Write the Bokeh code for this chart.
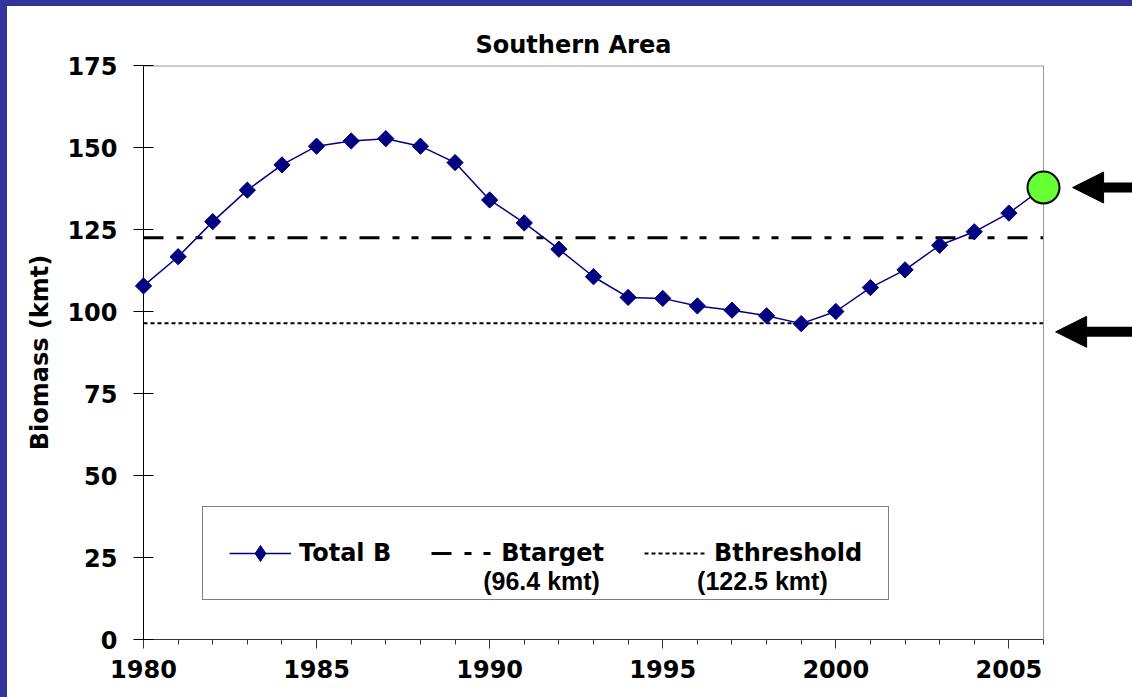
import math
from bokeh.plotting import figure
from bokeh.layouts import row, column
from bokeh.models import (Range1d, SingleIntervalTicker, Legend, LegendItem, Label,
                          Arrow, NormalHead, Span, Div)
from bokeh.embed import file_html
from bokeh.resources import INLINE

# ---- data ----
years = [1980, 1981, 1982, 1983, 1984, 1985, 1986, 1987, 1988, 1989,
         1990, 1991, 1992, 1993, 1994, 1995, 1996, 1997, 1998, 1999,
         2000, 2001, 2002, 2003, 2004, 2005, 2006]
total_b = [107.8, 116.7, 127.4, 137.0, 144.7, 150.4, 152.0, 152.7, 150.4, 145.4,
           134.0, 127.0, 119.0, 110.6, 104.3, 104.0, 101.7, 100.4, 98.7, 96.3,
           100.0, 107.3, 112.7, 120.2, 124.3, 130.0, 137.8]
dashdot_level = 122.5   # drawn dash-dot line
dotted_level = 96.4     # drawn dotted line
y_max = 175
legend_labels = ["Total B", "Btarget", "Bthreshold"]
legend_sublabels = ["(96.4 kmt)", "(122.5 kmt)"]
title_text = "Southern Area"
y_title = "Biomass (kmt)"
arrow_levels = [137.8, 93.8]
arrow_tips = [2006.84, 2006.35]

FONT = "DejaVu Sans"
NAVY = "#000080"
BAND = "#333399"
right_pad_years = 2.571   # empty space right of the plot area (holds the arrows)

p = figure(width=1125, height=691, output_backend="svg", toolbar_location=None,
           x_range=Range1d(years[0], years[-1] + right_pad_years), y_range=Range1d(0, y_max),
           title=title_text,
           min_border_left=136, min_border_right=0, min_border_top=59, min_border_bottom=58)
p.title.text_font = FONT
p.title.text_font_size = "24px"
p.title.text_font_style = "bold"
p.title.text_color = "black"
p.title.align = "left"
p.title.offset = 332
p.title.standoff = 14
p.background_fill_color = "white"
p.border_fill_color = "white"
p.outline_line_color = None
p.xgrid.visible = False
p.ygrid.visible = False

# axes
p.xaxis.ticker = SingleIntervalTicker(interval=5, num_minor_ticks=5)
p.yaxis.ticker = SingleIntervalTicker(interval=25, num_minor_ticks=0)
p.xaxis.bounds = (years[0], years[-1])
for ax in (p.xaxis[0], p.yaxis[0]):
    ax.major_label_text_font = FONT
    ax.major_label_text_font_style = "bold"
    ax.major_label_text_font_size = "24px"
    ax.major_label_text_color = "black"
p.xaxis.axis_line_color = "#333333"
p.xaxis.major_tick_line_color = "#333333"
p.xaxis.minor_tick_line_color = "#333333"
p.xaxis.major_tick_out = 9
p.xaxis.major_tick_in = 0
p.xaxis.minor_tick_out = 5
p.xaxis.minor_tick_in = 0
p.xaxis.major_label_standoff = 11
p.yaxis.axis_line_color = "black"
p.yaxis.major_tick_line_color = "black"
p.yaxis.major_tick_out = 10
p.yaxis.major_tick_in = 10
p.yaxis.minor_tick_line_color = None
p.yaxis.major_label_standoff = 16
p.yaxis.axis_label = y_title
p.yaxis.axis_label_text_font = FONT
p.yaxis.axis_label_text_font_style = "bold"
p.yaxis.axis_label_text_font_size = "24px"
p.yaxis.axis_label_text_color = "black"
p.yaxis.axis_label_standoff = 10

# plot-area border (top and right, grey)
p.add_layout(Span(location=years[-1], dimension="height", line_color="#999999", line_width=1))
p.line([years[0], years[-1]], [y_max, y_max], line_color="#999999", line_width=2)

# reference lines
r_dd = p.line([years[0], years[-1]], [dashdot_level, dashdot_level], line_color="black",
              line_width=3, line_dash="20 13 7 12 7 13")
r_dot = p.line([years[0], years[-1]], [dotted_level, dotted_level], line_color="black",
               line_width=2, line_dash="4 3")

# biomass series
r_line = p.line(years, total_b, line_color=NAVY, line_width=1.5)
# small diamonds hidden beneath the markers: they supply the legend's diamond glyph
r_leg_diamond = p.scatter(years[:-1], total_b[:-1], marker="diamond", size=10,
                          fill_color=NAVY, line_color=NAVY)
p.scatter(years[:-1], total_b[:-1], marker="square", angle=math.pi / 4, size=11.5,
          fill_color=NAVY, line_color=NAVY, level="overlay")
p.scatter(years[-1:], total_b[-1:], marker="circle", size=32, fill_color="#66FF33",
          line_color="black", line_width=2, level="overlay")

legend = Legend(items=[LegendItem(label=legend_labels[0], renderers=[r_line, r_leg_diamond]),
                       LegendItem(label=legend_labels[1], renderers=[r_dd]),
                       LegendItem(label=legend_labels[2], renderers=[r_dot])],
                orientation="horizontal", location=(59, 39),
                glyph_width=62, glyph_height=40, label_standoff=8, spacing=40, padding=26,
                label_text_font=FONT, label_text_font_style="bold", label_text_font_size="24px",
                label_text_color="black",
                border_line_color="black", border_line_width=1, background_fill_alpha=0)
p.add_layout(legend)

# second lines of the legend labels
for txt, xx in zip(legend_sublabels, [1991.5, 1997.88]):
    p.add_layout(Label(x=xx, y=17.9, text=txt, text_align="center", text_baseline="middle",
                       text_font="Liberation Sans", text_font_style="bold",
                       text_font_size="25px", text_color="black"))

# arrows on the right
for yv, tip in zip(arrow_levels, arrow_tips):
    p.add_layout(Arrow(x_start=years[-1] + right_pad_years + 1, y_start=yv, x_end=tip, y_end=yv,
                       line_width=10, line_color="black",
                       end=NormalHead(size=31, fill_color="black", line_color="black")))

# slide frame: blue bands on the left and top
left_band = Div(width=7, height=697, margin=0, styles={"background-color": BAND})
top_band = Div(width=1125, height=6, margin=0, styles={"background-color": BAND})
layout = row(left_band, column(top_band, p, spacing=0), spacing=0)

open("out.html", "w").write(file_html(layout, INLINE))
